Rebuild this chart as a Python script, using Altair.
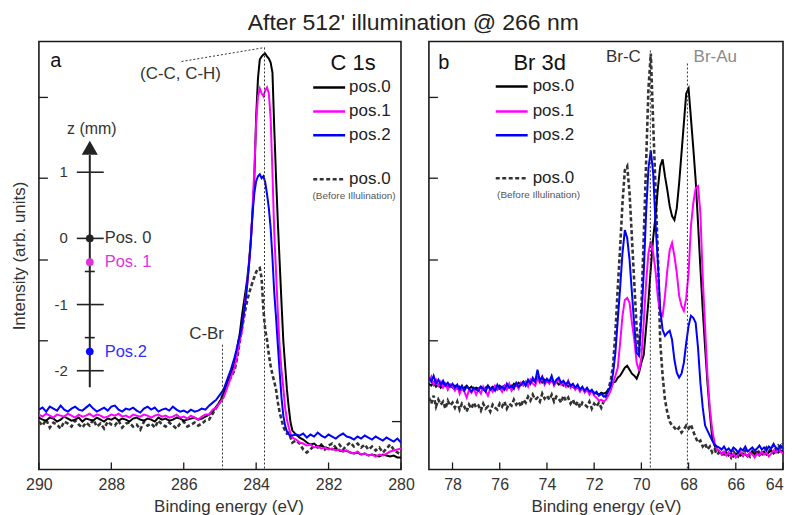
import altair as alt
import pandas as pd

FONT = "Liberation Sans"
INK = "#1a1a1a"
TXT = "#333333"

TITLE = "After 512' illumination @ 266 nm"
SERIES = ["pos.0", "pos.1", "pos.2", "pos.0"]
SERIES_COLORS = ["#000000", "#ff00ff", "#0000ff", "#333333"]
BEFORE_NOTE = "(Before Illulination)"

# ---------------- C 1s (panel a) ----------------
C1S_E = ([round(290.0 - 0.1 * i, 2) for i in range(54)]
         + [round(284.65 - 0.05 * i, 2) for i in range(34)]
         + [round(282.9 - 0.1 * i, 2) for i in range(30)])

C1S_POS0 = ([52, 50, 49, 52, 51, 48, 50, 53, 51, 49,
             50, 52, 48, 51, 50, 49, 52, 50, 48, 51,
             50, 52, 49, 51, 50, 48, 51, 52, 50, 49,
             51, 50, 48, 52, 50, 51, 49, 50, 52, 51,
             49, 50, 51, 52, 50, 51, 53]
            + [55, 58, 63, 68, 76, 86, 95]
            + [101, 106, 114, 127, 137, 152, 165, 177, 190, 207,
               229, 257, 292, 354, 392, 411, 414, 416, 417, 414,
               412, 408, 398, 342, 292, 247, 207, 167, 129, 104,
               80, 62, 47, 39]
            + [35, 32, 30, 27, 25, 26, 23, 24, 22, 21, 20, 21, 19, 18, 19,
               17, 16, 17, 15, 16, 14, 15, 14, 13, 15, 14, 13, 14, 12, 12])

C1S_POS1 = ([55, 53, 56, 54, 52, 55, 54, 53, 56, 54,
             52, 55, 53, 54, 56, 53, 55, 54, 52, 53,
             55, 54, 56, 53, 54, 52, 55, 54, 53, 55,
             54, 52, 54, 55, 53, 54, 52, 53, 55, 52,
             53, 51, 54, 52, 50, 53, 55]
            + [55, 60, 62, 67, 72, 82, 92]
            + [97, 102, 110, 120, 130, 137, 152, 169, 185, 204,
               227, 262, 302, 347, 374, 382, 377, 374, 380, 383,
               377, 352, 297, 237, 197, 157, 122, 100, 82, 62,
               50, 42, 36, 32]
            + [30, 27, 26, 24, 25, 22, 23, 21, 22, 20, 21, 19, 20, 18, 19,
               17, 16, 18, 15, 16, 14, 15, 13, 15, 14, 16, 18, 19, 20, 21])

C1S_POS2 = ([60, 62, 58, 63, 61, 59, 64, 60, 58, 61,
             63, 60, 59, 62, 65, 61, 58, 60, 62, 59,
             63, 64, 60, 58, 61, 60, 62, 59, 57, 61,
             63, 60, 62, 58, 60, 61, 59, 63, 60, 58,
             59, 57, 60, 58, 59, 61, 60]
            + [64, 67, 70, 75, 80, 90, 100]
            + [106, 112, 119, 127, 134, 142, 154, 167, 184, 204,
               227, 257, 277, 289, 294, 296, 292, 294, 288, 276,
               262, 242, 212, 177, 152, 124, 97, 72, 54, 44,
               38, 35, 34, 34]
            + [35, 34, 36, 32, 35, 33, 37, 34, 32, 35, 33, 31, 34, 36, 33,
               32, 30, 33, 31, 34, 32, 30, 33, 31, 29, 32, 30, 28, 31, 27])

C1S_BEFORE = ([48, 44, 50, 42, 47, 45, 41, 48, 46, 43,
               49, 45, 42, 47, 44, 50, 43, 46, 41, 48,
               45, 44, 49, 42, 46, 47, 43, 45, 40, 48,
               44, 46, 42, 49, 45, 43, 47, 44, 41, 46,
               48, 43, 45, 47, 44, 46, 49]
              + [50, 56, 62, 68, 77, 87, 92]
              + [96, 99, 107, 117, 129, 140, 150, 160, 169, 176,
                 182, 188, 193, 198, 201, 202, 192, 160, 140, 130,
                 115, 104, 95, 88, 80, 67, 57, 50, 43, 39,
                 36, 37, 32, 27]
              + [29, 26, 20, 17, 20, 24, 22, 25, 20, 24, 26, 22, 25, 20, 24,
                 27, 23, 26, 22, 25, 20, 23, 19, 22, 17, 21, 25, 20, 17, 15])

C1S_XTICKS = [290, 288, 286, 284, 282, 280]
C1S_YTICKS_LEFT = [373, 292, 210, 129]
C1S_YTICKS_RIGHT = [48]
C1S_REF_E = [283.77, 284.93]
C1S_REF_TOP = [423, 125]
C1S_NOTE_E = [286.09, 285.37]
C1S_NOTE_I = [396, 136]
C1S_NOTE_TEXT = ["(C-C, C-H)", "C-Br"]
C1S_NOTE_COLOR = [TXT, TXT]
C1S_SLANT = {"E0": [286.06], "E1": [283.77], "I0": [409], "I1": [423]}

# z-position inset (mm)
Z_TICKS = [1, 0, -1, -2]
Z_TICK_LABELS = ["1", "0", "-1", "-2"]
Z_MINOR = [-0.5, -1.5]
Z_AXIS = {"z0": [-2.25], "z1": [1.26]}
Z_ARROW = [1.37]
Z_TITLE = [1.66]
POS_Z = [0, -0.36, -1.71]
POS_LABELS = ["Pos. 0", "Pos. 1", "Pos.2"]
POS_DOT_COLORS = ["#222222", "#e033dc", "#0a0aff"]
POS_TXT_COLORS = ["#333333", "#e033dc", "#2f2fff"]

# ---------------- Br 3d (panel b) ----------------
BR3D_E = [round(79.0 - 0.1 * i, 1) for i in range(151)]

BR3D_POS0 = ([86, 84, 87, 83, 85, 82, 86, 84, 83, 85, 82,
              84, 81, 83, 80, 82, 84, 81, 83, 80, 82,
              81, 83, 80, 82, 84, 81, 83, 82, 80, 84,
              82, 84, 83, 85, 82, 86, 84, 87, 85, 88,
              86, 89, 87, 90, 88, 92, 89, 87, 90, 88,
              87, 89, 86, 88, 85, 87, 84, 86, 83, 85,
              83, 81, 82, 80, 81, 79, 80, 78, 79, 77,
              76, 75, 77, 76]
             + [77, 80, 82, 87, 88, 92, 94, 98, 102, 104,
                100, 96, 94, 91, 97, 107, 115, 142, 169, 202,
                232, 254, 282, 304, 311, 294, 280, 264, 254, 250,
                262, 287, 317, 347, 377, 382, 352, 322, 290, 247,
                202, 160, 122, 87, 57, 32, 24, 20]
             + [18, 16, 15, 17, 14, 16, 13, 15, 17, 14, 16, 15, 13, 16,
                18, 15, 17, 14, 16, 18, 15, 17, 19, 16, 18, 17, 19, 18])

BR3D_POS1 = ([88, 93, 85, 90, 84, 88, 82, 86, 80, 85, 83,
              79, 84, 76, 82, 78, 72, 80, 77, 81, 75,
              80, 76, 83, 79, 74, 81, 78, 84, 80, 82,
              78, 84, 80, 86, 79, 83, 85, 81, 87, 84,
              88, 83, 90, 86, 84, 91, 87, 93, 85, 89,
              86, 92, 84, 88, 90, 85, 87, 83, 89, 82,
              84, 80, 83, 78, 82, 77, 80, 75, 79, 74,
              72, 69, 70, 68]
             + [70, 74, 79, 87, 94, 102, 127, 154, 170, 172,
                167, 147, 130, 107, 99, 112, 147, 187, 217, 229,
                217, 199, 172, 157, 154, 174, 200, 220, 227, 214,
                197, 174, 164, 159, 172, 197, 244, 267, 282, 284,
                257, 192, 142, 94, 62, 40, 27, 20]
             + [19, 15, 18, 14, 17, 13, 16, 12, 15, 18, 14, 16, 13, 17,
                15, 12, 16, 14, 18, 15, 17, 13, 16, 19, 17, 20, 18, 16])

BR3D_POS2 = ([92, 88, 94, 86, 90, 85, 89, 84, 87, 83, 86,
              82, 85, 80, 84, 79, 83, 81, 78, 82, 80,
              79, 83, 81, 78, 84, 80, 82, 79, 85, 81,
              83, 80, 86, 82, 84, 81, 87, 83, 85, 88,
              84, 90, 86, 92, 88, 100, 89, 93, 87, 91,
              88, 94, 86, 90, 92, 87, 89, 85, 88, 84,
              86, 82, 85, 80, 83, 79, 82, 78, 80, 76,
              78, 74, 76, 73]
             + [74, 79, 84, 96, 117, 150, 182, 217, 240, 232,
                210, 177, 144, 117, 114, 152, 197, 257, 302, 320,
                297, 247, 207, 160, 140, 134, 137, 139, 130, 110,
                97, 92, 96, 107, 127, 144, 154, 152, 147, 122,
                87, 62, 44, 39, 34, 29, 25, 23]
             + [22, 20, 23, 19, 21, 18, 22, 20, 17, 21, 19, 23, 18, 20,
                22, 19, 21, 24, 20, 22, 19, 23, 21, 25, 22, 20, 24, 21])

BR3D_BEFORE = ([72, 66, 74, 63, 70, 65, 68, 61, 69, 64, 67,
                62, 68, 60, 66, 63, 58, 65, 61, 67, 62,
                64, 59, 66, 61, 63, 58, 65, 62, 60, 66,
                63, 68, 61, 66, 64, 70, 65, 68, 63, 70,
                67, 73, 69, 75, 70, 72, 68, 76, 71, 74,
                70, 75, 68, 73, 71, 67, 74, 69, 72, 66,
                70, 64, 68, 62, 67, 65, 63, 68, 61, 66,
                63, 67, 62, 68]
               + [72, 80, 89, 104, 137, 182, 222, 267, 300, 304,
                  277, 232, 187, 142, 117, 162, 232, 307, 382, 417,
                  347, 282, 214, 127, 94, 70, 57, 48, 44, 42,
                  39, 42, 37, 40, 44, 41, 45, 38, 32, 27,
                  29, 23, 26, 20, 23, 17, 20, 15]
               + [17, 14, 19, 13, 16, 12, 18, 15, 13, 17, 14, 19, 16, 13,
                  18, 15, 20, 17, 14, 19, 22, 18, 21, 25, 20, 24, 22, 26])

BR3D_XTICKS = [78, 76, 74, 72, 70, 68, 66, 64]
BR3D_YTICKS_LEFT = [373, 292, 210, 129]
BR3D_REF_E = [69.62, 68.05]
BR3D_REF_TOP = [420, 407]
BR3D_NOTE_E = [70.76, 66.87]
BR3D_NOTE_I = [414, 414]
BR3D_NOTE_TEXT = ["Br-C", "Br-Au"]
BR3D_NOTE_COLOR = [TXT, "#8a8a8a"]

for arr in (C1S_POS0, C1S_POS1, C1S_POS2, C1S_BEFORE):
    assert len(arr) == len(C1S_E), len(arr)
for arr in (BR3D_POS0, BR3D_POS1, BR3D_POS2, BR3D_BEFORE):
    assert len(arr) == len(BR3D_E), len(arr)

# ---------------- layout constants ----------------
W1, W2, H = 363, 355, 429
YS = alt.Scale(domain=[0, 429], nice=False, zero=False)
ZS = alt.Scale(domain=[-2, 1], range=[330, 131], nice=False, zero=False)


def make_xaxis(ticks, title_x=None, flush=False):
    kw = dict(values=ticks, format="d", labelFontSize=16, labelFont=FONT, labelColor=TXT,
              labelPadding=7, ticks=False, domain=False, grid=False, labelFlush=flush,
              title="Binding energy (eV)", titleFontSize=17, titleFont=FONT,
              titleColor=TXT, titleFontWeight="normal", titlePadding=6)
    if title_x is not None:
        kw["titleX"] = title_x
    return alt.Axis(**kw)


def spectra(E, arrays, xs, xa, yax):
    out = []
    for k, idx in enumerate([3, 0, 1, 2]):
        df = pd.DataFrame({"E": E, "I": arrays[idx]})
        kw = dict(color=SERIES_COLORS[idx], strokeWidth=2.0, clip=True)
        if idx == 3:
            kw.update(strokeDash=[4, 2.5], strokeWidth=2.6)
        out.append(alt.Chart(df).mark_line(**kw).encode(
            x=alt.X("E:Q", scale=xs, axis=xa),
            y=alt.Y("I:Q", scale=YS, axis=yax if k == 0 else None)))
    return out


def xticks_layer(ticks, xs, xa):
    return alt.Chart(pd.DataFrame({"E": ticks})).mark_rule(color=INK, strokeWidth=1.3).encode(
        x=alt.X("E:Q", scale=xs, axis=xa), y=alt.value(H), y2=alt.value(H - 7))


def yticks_layer(ticks, x0, x1):
    return alt.Chart(pd.DataFrame({"I": ticks})).mark_rule(color=INK, strokeWidth=1.3).encode(
        y=alt.Y("I:Q", scale=YS, axis=None), x=alt.value(x0), x2=alt.value(x1))


def ref_lines(E, top, xs, xa):
    df = pd.DataFrame({"E": E, "top": top, "bot": [0] * len(E)})
    return alt.Chart(df).mark_rule(color=TXT, strokeWidth=1, strokeDash=[2, 2]).encode(
        x=alt.X("E:Q", scale=xs, axis=xa),
        y=alt.Y("top:Q", scale=YS, axis=None), y2="bot:Q")


def notes(E, I, texts, colors, xs, xa):
    df = pd.DataFrame({"E": E, "I": I, "t": texts, "c": colors})
    return alt.Chart(df).mark_text(font=FONT, fontSize=17, align="center", baseline="middle").encode(
        x=alt.X("E:Q", scale=xs, axis=xa), y=alt.Y("I:Q", scale=YS, axis=None),
        text="t:N", color=alt.Color("c:N", scale=None))


def label(text, x, y, size, color=TXT, align="center"):
    return alt.Chart(pd.DataFrame({"t": [text]})).mark_text(
        font=FONT, fontSize=size, align=align, baseline="middle", color=color).encode(
        x=alt.value(x), y=alt.value(y), text="t:N")


def legend(x0, x1, xl, rows, title, title_xy, note_xy):
    layers = [label(title, title_xy[0], title_xy[1], 22, "#111111")]
    for idx, yy in zip(range(4), rows):
        kw = dict(color=SERIES_COLORS[idx], strokeWidth=2.5)
        if idx == 3:
            kw.update(strokeDash=[4, 2.5])
        layers.append(alt.Chart(pd.DataFrame({"a": [0]})).mark_rule(**kw).encode(
            x=alt.value(x0), x2=alt.value(x1), y=alt.value(yy)))
        layers.append(label(SERIES[idx], xl, yy, 17, "#222222", "left"))
    layers.append(label(BEFORE_NOTE, note_xy[0], note_xy[1], 10, "#555555"))
    return layers


# ---------------- panel a ----------------
XS1 = alt.Scale(domain=[290, 280], nice=False, zero=False)
XA1 = make_xaxis(C1S_XTICKS, 190)
yax1 = alt.Axis(title="Intensity (arb. units)", labels=False, ticks=False, domain=False, grid=False,
                titleFontSize=17, titleFont=FONT, titleColor=TXT, titleFontWeight="normal",
                titlePadding=10)

slant = alt.Chart(pd.DataFrame(C1S_SLANT)).mark_rule(color=TXT, strokeWidth=1, strokeDash=[2, 2]).encode(
    x=alt.X("E0:Q", scale=XS1, axis=XA1), x2="E1:Q",
    y=alt.Y("I0:Q", scale=YS, axis=None), y2="I1:Q")

inset = [
    alt.Chart(pd.DataFrame(Z_AXIS)).mark_rule(color="#222222", strokeWidth=2).encode(
        x=alt.value(51), y=alt.Y("z0:Q", scale=ZS, axis=None), y2="z1:Q"),
    alt.Chart(pd.DataFrame({"z": Z_TICKS})).mark_rule(color="#222222", strokeWidth=1.6).encode(
        y=alt.Y("z:Q", scale=ZS, axis=None), x=alt.value(38), x2=alt.value(65)),
    alt.Chart(pd.DataFrame({"z": Z_MINOR})).mark_rule(color="#222222", strokeWidth=1.6).encode(
        y=alt.Y("z:Q", scale=ZS, axis=None), x=alt.value(46), x2=alt.value(56)),
    alt.Chart(pd.DataFrame({"z": Z_TICKS, "t": Z_TICK_LABELS})).mark_text(
        font=FONT, fontSize=15, align="right", baseline="middle", color=TXT).encode(
        y=alt.Y("z:Q", scale=ZS, axis=None), x=alt.value(29), text="t:N"),
    alt.Chart(pd.DataFrame({"z": Z_ARROW})).mark_point(
        shape="triangle-up", filled=True, size=260, color="#222222", opacity=1).encode(
        y=alt.Y("z:Q", scale=ZS, axis=None), x=alt.value(51)),
    alt.Chart(pd.DataFrame({"z": Z_TITLE, "t": ["z (mm)"]})).mark_text(
        font=FONT, fontSize=16, align="center", baseline="middle", color=TXT).encode(
        y=alt.Y("z:Q", scale=ZS, axis=None), x=alt.value(53), text="t:N"),
    alt.Chart(pd.DataFrame({"z": POS_Z, "c": POS_DOT_COLORS})).mark_circle(size=60, opacity=1).encode(
        y=alt.Y("z:Q", scale=ZS, axis=None), x=alt.value(51), color=alt.Color("c:N", scale=None)),
    alt.Chart(pd.DataFrame({"z": POS_Z, "t": POS_LABELS, "c": POS_TXT_COLORS})).mark_text(
        font=FONT, fontSize=16.5, align="left", baseline="middle").encode(
        y=alt.Y("z:Q", scale=ZS, axis=None), x=alt.value(66), text="t:N",
        color=alt.Color("c:N", scale=None)),
]

left_layers = (
    spectra(C1S_E, [C1S_POS0, C1S_POS1, C1S_POS2, C1S_BEFORE], XS1, XA1, yax1)
    + [ref_lines(C1S_REF_E, C1S_REF_TOP, XS1, XA1), slant]
    + [xticks_layer(C1S_XTICKS, XS1, XA1), yticks_layer(C1S_YTICKS_LEFT, 0, 9),
       yticks_layer(C1S_YTICKS_RIGHT, W1 - 9, W1),
       notes(C1S_NOTE_E, C1S_NOTE_I, C1S_NOTE_TEXT, C1S_NOTE_COLOR, XS1, XA1),
       label("a", 17, 19, 20, "#111111")]
    + legend(275, 307, 311, [46, 70, 94, 138], "C 1s", (315, 22), (316, 155))
    + inset
)
left = alt.layer(*left_layers).properties(width=W1, height=H).resolve_scale(y="independent")

# ---------------- panel b ----------------
XS2 = alt.Scale(domain=[79, 64], nice=False, zero=False)
XA2 = make_xaxis(BR3D_XTICKS, flush=True)
right_layers = (
    spectra(BR3D_E, [BR3D_POS0, BR3D_POS1, BR3D_POS2, BR3D_BEFORE], XS2, XA2, None)
    + [ref_lines(BR3D_REF_E, BR3D_REF_TOP, XS2, XA2)]
    + [xticks_layer(BR3D_XTICKS, XS2, XA2), yticks_layer(BR3D_YTICKS_LEFT, 0, 9),
       notes(BR3D_NOTE_E, BR3D_NOTE_I, BR3D_NOTE_TEXT, BR3D_NOTE_COLOR, XS2, XA2),
       label("b", 15, 22, 20, "#111111")]
    + legend(67, 99, 104, [45, 70, 94, 137], "Br 3d", (111, 22), (110, 154))
)
right = alt.layer(*right_layers).properties(width=W2, height=H).resolve_scale(y="independent")

chart = alt.hconcat(left, right, spacing=28, bounds="flush").properties(
    title=alt.TitleParams(TITLE, fontSize=23, font=FONT, fontWeight="normal", color="#222222",
                          anchor="middle", offset=6, dx=16),
    padding={"left": 2, "top": 3, "right": 0, "bottom": 0},
).configure_view(stroke=INK, strokeWidth=1.6)

chart.save("out.html", embed_options={"renderer": "svg", "actions": False})
